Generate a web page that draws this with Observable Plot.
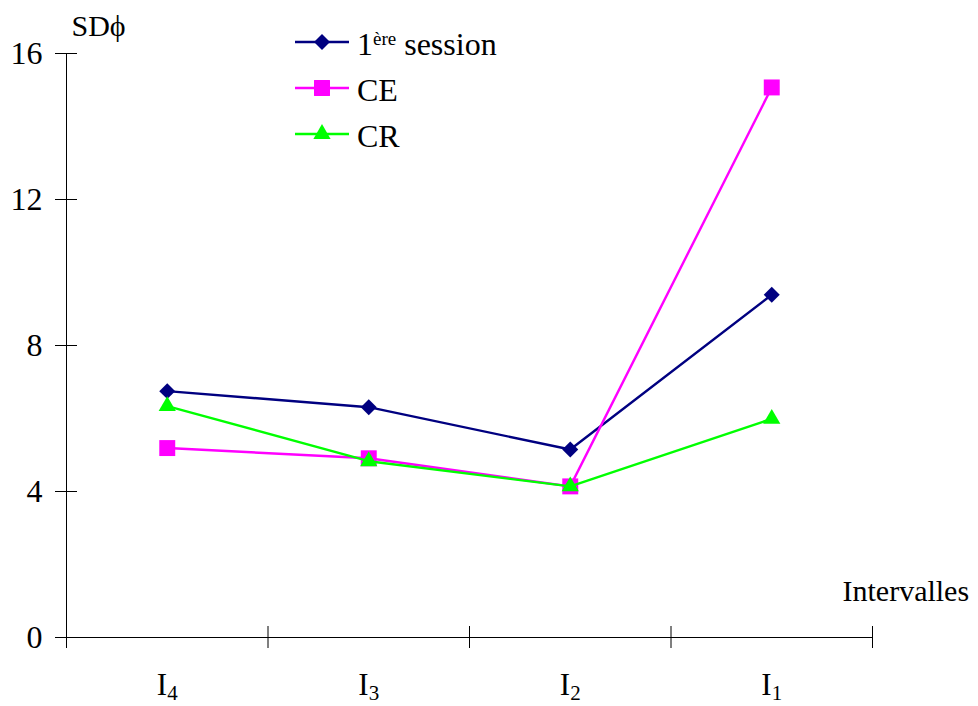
<!DOCTYPE html>
<html>
<head>
<meta charset="utf-8">
<script src="https://cdn.jsdelivr.net/npm/d3@7"></script>
<script src="https://cdn.jsdelivr.net/npm/@observablehq/plot@0.6"></script>
<style>
  html, body { margin: 0; padding: 0; background: #fff; }
  #chart { width: 978px; height: 706px; }
</style>
</head>
<body>
<div id="chart"></div>
<script>
// Intervals, shown left to right as I4, I3, I2, I1 (subscript digit)
const intervalIndex = ["4", "3", "2", "1"];
const seriesNames = ["1ère session", "CE", "CR"];
// SDϕ per interval, one array per series
const premiereSession = [6.75, 6.31, 5.15, 9.39];
const ceValues = [5.19, 4.91, 4.14, 15.07];
const crValues = [6.34, 4.83, 4.14, 5.99];
const yTicks = [0, 4, 8, 12, 16];
const seriesColors = ["#000080", "#FF00FF", "#00FF00"];
const seriesSymbols = ["diamond2", "square", "triangle"];
const symbolRadius = [7.2, 9, 6.4];

const seriesValues = [premiereSession, ceValues, crValues];
const rows = seriesNames.flatMap((name, s) =>
  seriesValues[s].map((v, i) => ({series: name, pos: i + 0.5, value: v}))
);

const FONT = "'Liberation Serif', 'Times New Roman', serif";
const FS = 30;

const seriesMarks = seriesNames.flatMap((name, s) => {
  const data = rows.filter(d => d.series === name);
  return [
    Plot.line(data, {x: "pos", y: "value", stroke: seriesColors[s], strokeWidth: 2.4}),
    Plot.dot(data, {x: "pos", y: "value", fill: seriesColors[s], stroke: "none",
                    symbol: () => seriesSymbols[s], r: symbolRadius[s]})
  ];
});

const plot = Plot.plot({
  width: 978,
  height: 706,
  marginLeft: 66,
  marginRight: 106,
  marginTop: 53,
  marginBottom: 69,
  style: `font-family: ${FONT}; font-size: ${FS}px; background: #fff; color: #000; overflow: visible;`,
  x: {type: "linear", domain: [0, intervalIndex.length], axis: null},
  y: {domain: [0, 16], axis: null},
  symbol: {type: "identity"},
  marks: [
    // axis lines
    Plot.ruleX([0], {y1: 0, y2: 16, stroke: "#000", strokeWidth: 1}),
    Plot.ruleY([0], {x1: 0, x2: intervalIndex.length, stroke: "#000", strokeWidth: 1}),
    // y ticks crossing the axis, with labels
    Plot.axisY({ticks: yTicks, tickSize: 22, dx: 11, tickPadding: 13,
                tickFormat: d => String(d), label: null, fontSize: 32}),
    // x ticks at interval boundaries, crossing the axis
    Plot.axisX({ticks: d3.range(intervalIndex.length + 1), tickSize: 22, dy: -11,
                tickFormat: () => "", label: null}),
    // interval labels centred in each interval
    Plot.text(intervalIndex, {x: (d, i) => i + 0.5, y: 0, text: () => "I", dy: 48,
                              fontSize: 31, className: "interval-label"}),
    // axis titles
    Plot.text(["SDϕ"], {x: 0, y: 16, text: d => d, dx: 5, dy: -27, textAnchor: "start", fontSize: FS}),
    Plot.text(["Intervalles"], {x: intervalIndex.length, y: 0, text: d => d, dx: -30, dy: -46,
                                textAnchor: "start", fontSize: FS}),
    ...seriesMarks
  ]
});

const svg = d3.select(plot);

// subscripted interval numbers
svg.selectAll(".interval-label text").each(function(_, i) {
  d3.select(this).append("tspan")
    .attr("dy", "0.22em")
    .attr("font-size", "21px")
    .text(intervalIndex[i]);
});

// legend
const legend = svg.append("g")
  .attr("font-family", FONT)
  .attr("font-size", 32)
  .attr("text-anchor", "start");
const legendRowsY = [42, 88, 134];
seriesNames.forEach((name, s) => {
  const y = legendRowsY[s];
  legend.append("line")
    .attr("x1", 295).attr("x2", 349).attr("y1", y).attr("y2", y)
    .attr("stroke", seriesColors[s]).attr("stroke-width", 2.4);
  const symType = [d3.symbolDiamond2, d3.symbolSquare, d3.symbolTriangle][s];
  legend.append("path")
    .attr("transform", `translate(322,${y})`)
    .attr("d", d3.symbol(symType, Math.PI * symbolRadius[s] ** 2)())
    .attr("fill", seriesColors[s]);
  const t = legend.append("text").attr("x", 357).attr("y", y + 13);
  if (s === 0) {
    t.append("tspan").text("1");
    t.append("tspan").attr("font-size", "19px").attr("dy", "-0.55em").text("ère");
    t.append("tspan").attr("dy", "0.33em").text(" session");
  } else {
    t.text(name);
  }
});

document.getElementById("chart").appendChild(plot);
</script>
</body>
</html>
